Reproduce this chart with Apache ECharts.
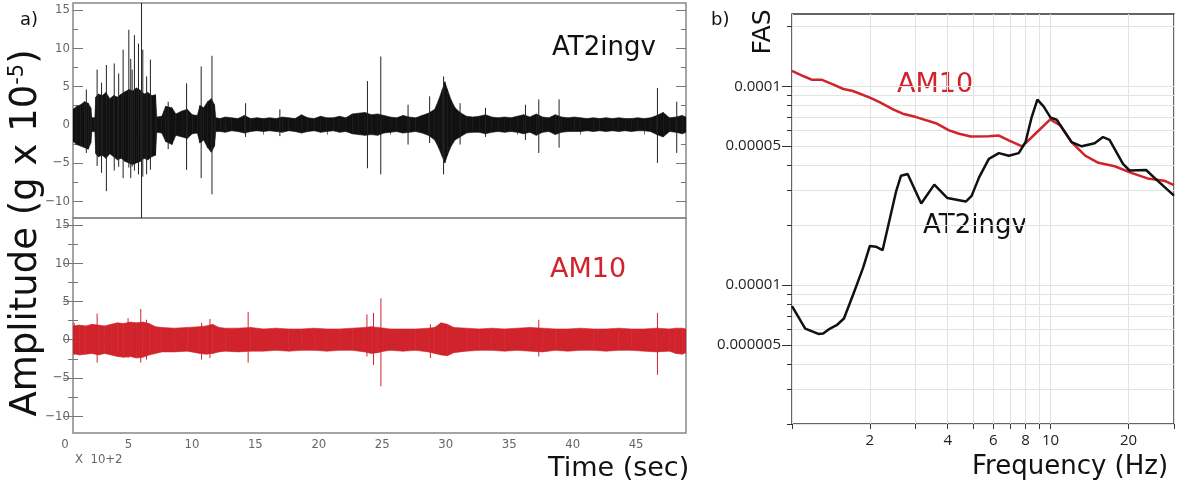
<!DOCTYPE html>
<html>
<head>
<meta charset="utf-8">
<title>AT2ingv / AM10</title>
<script src="https://cdn.jsdelivr.net/npm/echarts@6.0.0/dist/echarts.min.js"></script>
<style>
  html, body { margin: 0; padding: 0; background: #fff; }
  #chart { width: 1182px; height: 488px; }
</style>
</head>
<body>
<div id="chart"></div>
<script>
// time in units of 100 s (axis note "X 10+2"), amplitude in g x 10^-5
// AT2ingv trace, envelope
const atTime = [
  0, 0.3, 0.6, 0.9, 1.2, 1.4, 1.48, 1.72, 1.8, 2.0,
  2.3, 2.6, 2.9, 3.2, 3.5, 3.8, 4.1, 4.4, 4.7, 5.0,
  5.3, 5.6, 5.9, 6.2, 6.5, 6.6, 7.0, 7.3, 7.8, 8.1,
  8.6, 9.0, 9.4, 9.8, 10.0, 10.3, 10.6, 10.9, 11.15, 11.25,
  11.6, 12.0, 12.5, 13.0, 13.5, 14.0, 14.5, 15.0, 15.5, 16.0,
  16.5, 17.0, 17.5, 18.0, 18.5, 19.0, 19.5, 20.0, 20.5, 21.0,
  21.5, 22.0, 22.5, 23.0, 23.5, 24.0, 24.5, 25.0, 25.5, 26.0,
  26.5, 27.0, 27.5, 28.0, 28.5, 28.8, 29.1, 29.3, 29.5, 29.8,
  30.1, 30.5, 31.0, 31.5, 32.0, 32.5, 33.0, 33.5, 34.0, 34.5,
  35.0, 35.5, 36.0, 36.5, 37.0, 37.5, 38.0, 38.5, 39.0, 39.5,
  40.0, 40.5, 41.0, 41.5, 42.0, 42.5, 43.0, 43.5, 44.0, 44.5,
  45.0, 45.5, 46.0, 46.5, 47.0, 47.5, 48.0, 48.3
];
const atHigh = [
  2.0, 2.4, 2.6, 3.0, 2.8, 2.2, 0.9, 0.9, 3.6, 4.0,
  3.8, 4.2, 3.4, 3.8, 3.6, 4.0, 4.3, 4.6, 4.4, 4.8,
  4.5, 4.0, 4.2, 3.8, 3.9, 1.0, 1.1, 2.4, 2.2, 1.4,
  1.8, 2.0, 1.3, 1.2, 2.5, 2.2, 3.0, 3.4, 2.6, 0.9,
  0.8, 1.0, 0.9, 0.8, 1.2, 0.8, 0.9, 0.8, 0.9, 0.8,
  1.0, 0.9, 0.8, 1.3, 0.9, 0.8, 1.1, 0.9, 0.9, 1.1,
  0.9, 1.4, 1.5, 1.6, 1.3, 1.4, 1.2, 1.0, 0.9, 1.2,
  1.0, 0.9, 1.2, 1.5, 2.0, 3.2, 4.6, 5.6, 4.6, 3.2,
  2.2, 1.6, 1.1, 1.0, 1.1, 1.3, 1.0, 0.9, 1.0, 0.9,
  1.1, 1.3, 1.0, 1.4, 1.0, 0.9, 1.3, 1.0, 0.9, 1.0,
  0.9, 0.8, 0.9, 0.8, 0.9, 0.8, 0.9, 0.8, 0.8, 0.9,
  0.8, 0.9, 1.2, 1.6, 0.9, 1.0, 1.2, 1.0
];
const atLow = [
  -2.2, -2.6, -2.8, -3.0, -3.2, -2.4, -0.9, -0.9, -3.8, -4.2,
  -4.0, -4.4, -3.8, -4.2, -4.6, -4.4, -4.8, -5.0, -5.2, -5.0,
  -4.8, -4.4, -4.6, -4.2, -4.0, -1.0, -1.1, -2.2, -2.6, -1.4,
  -1.6, -1.8, -1.2, -1.1, -2.4, -2.0, -3.0, -3.6, -2.8, -0.9,
  -0.9, -1.0, -0.8, -0.9, -1.1, -0.9, -0.8, -0.9, -0.8, -0.9,
  -1.0, -0.8, -0.9, -1.1, -0.9, -0.8, -1.0, -0.9, -0.8, -1.0,
  -0.9, -1.2, -1.3, -1.4, -1.3, -1.4, -1.1, -1.0, -0.9, -1.1,
  -1.0, -0.9, -1.1, -1.4, -2.0, -3.0, -4.2, -5.0, -4.0, -2.8,
  -2.0, -1.6, -1.1, -1.0, -1.0, -1.2, -1.0, -0.9, -1.0, -0.9,
  -1.0, -1.2, -1.0, -1.4, -1.0, -0.9, -1.3, -1.0, -0.9, -0.9,
  -0.9, -0.8, -0.9, -0.8, -0.9, -0.8, -0.9, -0.8, -0.9, -0.8,
  -0.8, -0.9, -1.3, -1.6, -0.9, -1.0, -1.2, -1.0
];
// single spikes sticking out of the AT2ingv envelope
const atSpikeTime = [1.05, 1.9, 2.25, 2.63, 3.25, 3.6, 3.95, 4.4, 4.55, 4.66, 4.84, 5.16, 5.4, 5.5, 5.8, 6.1, 7.5, 8.95, 10.1, 10.95, 13.6, 16.3, 23.2, 24.25, 26.4, 28.1, 29.2, 30.5, 32.5, 35.65, 36.7, 38.3, 46.05, 47.57];
const atSpikeHigh = [4.6, 7.2, 5.5, 7.8, 8.0, 6.7, 9.8, 12.4, 8.6, 7.2, 11.7, 10.6, 16, 9.8, 6.3, 8.5, 3.0, 5.4, 7.6, 9.0, 2.8, 2.0, 5.7, 8.9, 2.6, 3.7, 6.3, 2.8, 2.2, 2.6, 3.3, 3.3, 4.8, 3.0];
const atSpikeLow = [-3.7, -5.4, -6.3, -8.7, -6.0, -5.5, -7.0, -5.6, -7.0, -5.5, -6.0, -6.5, -12.2, -6.8, -6.5, -5.9, -3.2, -5.9, -7.0, -9.1, -1.6, -1.5, -5.7, -6.5, -2.6, -2.4, -6.5, -2.6, -1.6, -2.0, -3.7, -3.0, -5.0, -3.7];

// AM10 trace
const amTime = [
  0, 0.5, 1, 1.5, 2, 2.5, 3, 3.5, 4, 4.5,
  5, 5.5, 6, 6.5, 7, 8, 9, 10, 10.5, 11,
  11.5, 12, 13, 14, 15, 16, 17, 18, 19, 20,
  21, 22, 23, 23.5, 24, 24.5, 25, 26, 27, 28,
  28.5, 29, 29.5, 30, 31, 32, 33, 34, 35, 36,
  37, 38, 39, 40, 41, 42, 43, 44, 45, 46,
  47, 47.5, 48, 48.3
];
const amHigh = [
  1.8, 1.9, 1.8, 2.0, 1.9, 1.8, 2.0, 2.2, 2.1, 2.3,
  2.2, 2.3, 2.1, 1.7, 1.6, 1.5, 1.6, 1.7, 1.8, 2.0,
  1.6, 1.5, 1.5, 1.6, 1.4, 1.5, 1.4, 1.4, 1.5, 1.4,
  1.4, 1.5, 1.6, 1.7, 1.6, 1.5, 1.4, 1.4, 1.4, 1.5,
  1.6, 2.2, 2.0, 1.6, 1.5, 1.4, 1.5, 1.4, 1.5, 1.6,
  1.5, 1.4, 1.4, 1.5, 1.4, 1.4, 1.5, 1.4, 1.4, 1.5,
  1.4, 1.5, 1.5, 1.4
];
const amLow = [
  -1.8, -2.0, -1.9, -1.8, -2.0, -1.8, -2.0, -2.2, -2.3, -2.2,
  -2.4, -2.3, -2.0, -1.8, -1.6, -1.6, -1.5, -1.8, -1.9, -1.8,
  -1.6, -1.5, -1.6, -1.5, -1.5, -1.4, -1.5, -1.4, -1.4, -1.5,
  -1.4, -1.4, -1.6, -1.8, -1.7, -1.5, -1.4, -1.5, -1.4, -1.6,
  -1.8, -2.0, -2.1, -1.7, -1.5, -1.4, -1.4, -1.5, -1.4, -1.5,
  -1.6, -1.4, -1.5, -1.4, -1.4, -1.5, -1.4, -1.4, -1.5, -1.6,
  -1.5, -1.8, -1.9, -1.7
];
const amSpikeTime = [0.1, 1.9, 4.34, 5.34, 5.79, 10.13, 10.79, 13.8, 23.16, 23.68, 24.26, 28.16, 36.7, 46.05];
const amSpikeHigh = [2.2, 3.4, 2.8, 4.0, 2.6, 2.2, 2.7, 3.6, 3.3, 3.5, 5.4, 2.0, 2.6, 3.5];
const amSpikeLow = [-2.0, -3.0, -2.4, -3.0, -2.6, -2.6, -2.4, -3.0, -2.2, -3.3, -6.1, -2.4, -2.2, -4.6];

// Fourier amplitude spectra
const amFreq = [1.0, 1.11, 1.19, 1.30, 1.44, 1.58, 1.72, 2.0, 2.18, 2.46, 2.68, 3.02, 3.6, 4.05, 4.43, 4.91, 5.77, 6.31, 6.89, 7.76, 8.73, 9.97, 10.9, 12.05, 13.6, 15.3, 17.7, 20.5, 23.7, 27.5, 30];
const amFas = [1.195e-4, 1.123e-4, 1.08e-4, 1.08e-4, 1.023e-4, 9.69e-5, 9.47e-5, 8.77e-5, 8.33e-5, 7.65e-5, 7.28e-5, 7.0e-5, 6.52e-5, 6.0e-5, 5.77e-5, 5.59e-5, 5.61e-5, 5.65e-5, 5.34e-5, 4.98e-5, 5.77e-5, 6.81e-5, 6.35e-5, 5.24e-5, 4.48e-5, 4.12e-5, 3.96e-5, 3.67e-5, 3.44e-5, 3.35e-5, 3.18e-5];
const atFreq = [1.0, 1.125, 1.265, 1.32, 1.403, 1.488, 1.588, 1.724, 1.884, 2.0, 2.11, 2.24, 2.53, 2.64, 2.80, 3.16, 3.55, 3.99, 4.7, 4.95, 5.29, 5.77, 6.31, 6.89, 7.53, 8.0, 8.45, 8.89, 9.39, 10.0, 10.56, 12.05, 13.2, 14.8, 15.95, 16.9, 19.05, 20.2, 23.4, 25.9, 30];
const atFas = [7.84e-6, 6.04e-6, 5.68e-6, 5.70e-6, 6.04e-6, 6.28e-6, 6.79e-6, 8.97e-6, 1.223e-5, 1.574e-5, 1.56e-5, 1.497e-5, 2.98e-5, 3.55e-5, 3.62e-5, 2.57e-5, 3.2e-5, 2.74e-5, 2.63e-5, 2.81e-5, 3.48e-5, 4.31e-5, 4.61e-5, 4.47e-5, 4.61e-5, 5.24e-5, 7.0e-5, 8.57e-5, 7.92e-5, 6.95e-5, 6.79e-5, 5.24e-5, 4.99e-5, 5.17e-5, 5.55e-5, 5.38e-5, 4.07e-5, 3.77e-5, 3.79e-5, 3.35e-5, 2.82e-5];

// ticks and labels
const timeMajor = [0, 5, 10, 15, 20, 25, 30, 35, 40, 45];
const timeMinor = [2.5, 7.5, 12.5, 17.5, 22.5, 27.5, 32.5, 37.5, 42.5, 47.5];
const ampMajor = [-10, -5, 0, 5, 10, 15];
const ampMinor = [-7.5, -2.5, 2.5, 7.5, 12.5];
const freqTicks = [1, 2, 3, 4, 5, 6, 7, 8, 9, 10, 20, 30];
const freqLabels = [2, 4, 6, 8, 10, 20];
const fasTicks = [2e-6, 3e-6, 4e-6, 5e-6, 6e-6, 7e-6, 8e-6, 9e-6, 1e-5, 2e-5, 3e-5, 4e-5, 5e-5, 6e-5, 7e-5, 8e-5, 9e-5, 1e-4, 2e-4];
const fasLabels = [0.000005, 0.00001, 0.00005, 0.0001];

const RED = '#d0232b';
const INK = '#111';
const NARROW = "'Liberation Sans Narrow', 'DejaVu Sans Condensed', 'Liberation Sans', sans-serif";
const SANS = "'DejaVu Sans', sans-serif";
const T_MIN = 0, T_MAX = 48.3, A_MIN = -12.2, A_MAX = 15.9;

const chart = echarts.init(document.getElementById('chart'));

function tickAxis(gridIndex, position, min, max, ticks, len, extra) {
  return Object.assign({
    type: 'value', gridIndex, position, min, max,
    axisLine: { show: false },
    axisTick: { show: true, inside: true, length: len, customValues: ticks, lineStyle: { color: '#777', width: 1 } },
    axisLabel: { show: false },
    splitLine: { show: false }
  }, extra || {});
}

const ampLabel = {
  show: true, customValues: ampMajor, margin: 3,
  color: '#666', fontSize: 13, fontFamily: NARROW,
  formatter: v => String(v).replace('-', '\u2212')
};
const timeLabel = {
  show: true, customValues: timeMajor, margin: 5,
  color: '#666', fontSize: 13, fontFamily: NARROW,
  padding: [0, 16, 0, 0],
  formatter: v => String(v)
};

const xAxes = [];
const yAxes = [];
[0, 1].forEach(g => {
  xAxes.push(tickAxis(g, 'top', T_MIN, T_MAX, timeMinor, 5));
  xAxes.push(tickAxis(g, 'top', T_MIN, T_MAX, timeMajor, 10));
  yAxes.push(tickAxis(g, 'left', A_MIN, A_MAX, ampMinor, 5));
  yAxes.push(tickAxis(g, 'left', A_MIN, A_MAX, ampMajor, 10, { axisLabel: ampLabel }));
  yAxes.push(tickAxis(g, 'right', A_MIN, A_MAX, ampMinor, 5));
  yAxes.push(tickAxis(g, 'right', A_MIN, A_MAX, ampMajor, 10));
});
xAxes.push(tickAxis(1, 'bottom', T_MIN, T_MAX, timeMinor, 5));
xAxes.push(tickAxis(1, 'bottom', T_MIN, T_MAX, timeMajor, 10, { axisLabel: timeLabel }));

// spectrum axes (log-log)
xAxes.push({
  type: 'log', logBase: 10, gridIndex: 2, position: 'bottom', min: 1, max: 30,
  axisLine: { show: false },
  axisTick: { show: true, length: 5, customValues: freqTicks, lineStyle: { color: '#333' } },
  axisLabel: { customValues: freqLabels, color: '#222', fontSize: 15, fontFamily: "'Open Sans', sans-serif", margin: 9 },
  splitLine: { show: true, lineStyle: { color: '#e2e2e2', width: 1 } }
});
yAxes.push({
  type: 'log', logBase: 10, gridIndex: 2, position: 'left', min: 2e-6, max: 2.31e-4,
  axisLine: { show: false },
  axisTick: { show: true, length: 5, customValues: fasTicks, lineStyle: { color: '#333' } },
  axisLabel: { show: false },
  splitLine: { show: true, lineStyle: { color: '#e2e2e2', width: 1 } }
});
yAxes.push({
  type: 'log', logBase: 10, gridIndex: 2, position: 'left', min: 2e-6, max: 2.31e-4,
  axisLine: { show: false },
  axisTick: { show: true, length: 10, customValues: fasLabels, lineStyle: { color: '#333' } },
  axisLabel: {
    customValues: fasLabels, color: '#222', fontSize: 15, fontFamily: "'Open Sans', sans-serif", margin: 11,
    formatter: v => v.toFixed(Math.max(0, -Math.floor(Math.log10(v) + 1e-9)))
  },
  splitLine: { show: false }
});

// envelope of a trace: one filled quad per pair of neighbouring samples
function band(name, time, hi, lo, color, xi, yi) {
  const data = [];
  for (let i = 0; i < time.length - 1; i++) {
    data.push([time[i], hi[i], lo[i], time[i + 1], hi[i + 1], lo[i + 1]]);
  }
  return {
    type: 'custom', name, xAxisIndex: xi, yAxisIndex: yi, clip: true, silent: true,
    data,
    encode: { x: [0, 3], y: [1, 2, 4, 5] },
    renderItem: (params, api) => {
      const p = [
        api.coord([api.value(0), api.value(1)]),
        api.coord([api.value(3), api.value(4)]),
        api.coord([api.value(3), api.value(5)]),
        api.coord([api.value(0), api.value(2)])
      ];
      return {
        type: 'polygon',
        shape: { points: p },
        style: { fill: color, stroke: color, lineWidth: 0.6 }
      };
    }
  };
}

function spikes(name, time, hi, lo, color, xi, yi) {
  return {
    type: 'custom', name: name + ' spikes', xAxisIndex: xi, yAxisIndex: yi, clip: true, silent: true,
    data: time.map((t, i) => [t, hi[i], lo[i]]),
    encode: { x: 0, y: [1, 2] },
    renderItem: (params, api) => {
      const a = api.coord([api.value(0), api.value(1)]);
      const b = api.coord([api.value(0), api.value(2)]);
      return {
        type: 'line',
        shape: { x1: a[0], y1: a[1], x2: b[0], y2: b[1] },
        style: { stroke: color, lineWidth: 1 }
      };
    }
  };
}

function label(text, x, y, size, color, rotated) {
  return {
    type: 'text', x, y, silent: true,
    rotation: rotated ? Math.PI / 2 : 0,
    style: {
      text, fill: color, font: size + 'px ' + SANS,
      textAlign: rotated ? 'center' : 'left', align: rotated ? 'center' : 'left',
      textVerticalAlign: 'middle', verticalAlign: 'middle'
    }
  };
}

chart.setOption({
  animation: false,
  backgroundColor: '#fff',
  grid: [
    { left: 73, top: 3, width: 613, height: 215, show: true, borderColor: '#888', borderWidth: 1.5, backgroundColor: 'transparent', outerBoundsMode: 'none' },
    { left: 73, top: 218, width: 613, height: 215, show: true, borderColor: '#888', borderWidth: 1.5, backgroundColor: 'transparent', outerBoundsMode: 'none' },
    { left: 792, top: 14, width: 382, height: 410, show: true, borderColor: '#333', borderWidth: 1.5, backgroundColor: 'transparent', outerBoundsMode: 'none' }
  ],
  xAxis: xAxes,
  yAxis: yAxes,
  series: [
    band('AT2ingv', atTime, atHigh, atLow, INK, 1, 1),
    spikes('AT2ingv', atSpikeTime, atSpikeHigh, atSpikeLow, '#222', 1, 1),
    band('AM10', amTime, amHigh, amLow, RED, 3, 5),
    spikes('AM10', amSpikeTime, amSpikeHigh, amSpikeLow, RED, 3, 5),
    {
      type: 'line', name: 'AM10 FAS', xAxisIndex: 6, yAxisIndex: 9, symbol: 'none',
      data: amFreq.map((f, i) => [f, amFas[i]]),
      lineStyle: { color: RED, width: 2.5 }
    },
    {
      type: 'line', name: 'AT2ingv FAS', xAxisIndex: 6, yAxisIndex: 9, symbol: 'none',
      data: atFreq.map((f, i) => [f, atFas[i]]),
      lineStyle: { color: INK, width: 2.5 }
    }
  ],
  graphic: [
    label('a)', 20, 20, 18, INK),
    label('b)', 711, 20, 18, INK),
    label('AT2ingv', 552, 48, 26, INK),
    label('AM10', 550, 270, 27, RED),
    label('AM10', 897, 85, 27, RED),
    label('AT2ingv', 923, 226, 26, INK),
    label('Time (sec)', 548, 469, 27, INK),
    label('Frequency (Hz)', 972, 467, 26, INK),
    label('FAS', 763, 32, 25, INK, true),
    {
      type: 'text', x: 26, y: 233, silent: true, rotation: Math.PI / 2,
      style: {
        text: 'Amplitude (g x 10{sup|-5})',
        fill: INK, font: '37px ' + SANS,
        textAlign: 'center', align: 'center', textVerticalAlign: 'middle', verticalAlign: 'middle',
        rich: { sup: { fontSize: 21, fontFamily: 'DejaVu Sans', fill: INK, verticalAlign: 'top', lineHeight: 37 } }
      }
    },
    { type: 'text', x: 75, y: 460, silent: true, style: { text: 'X  10+2', fill: '#666', font: '13px ' + NARROW, verticalAlign: 'middle', textVerticalAlign: 'middle' } }
  ]
});
</script>
</body>
</html>
